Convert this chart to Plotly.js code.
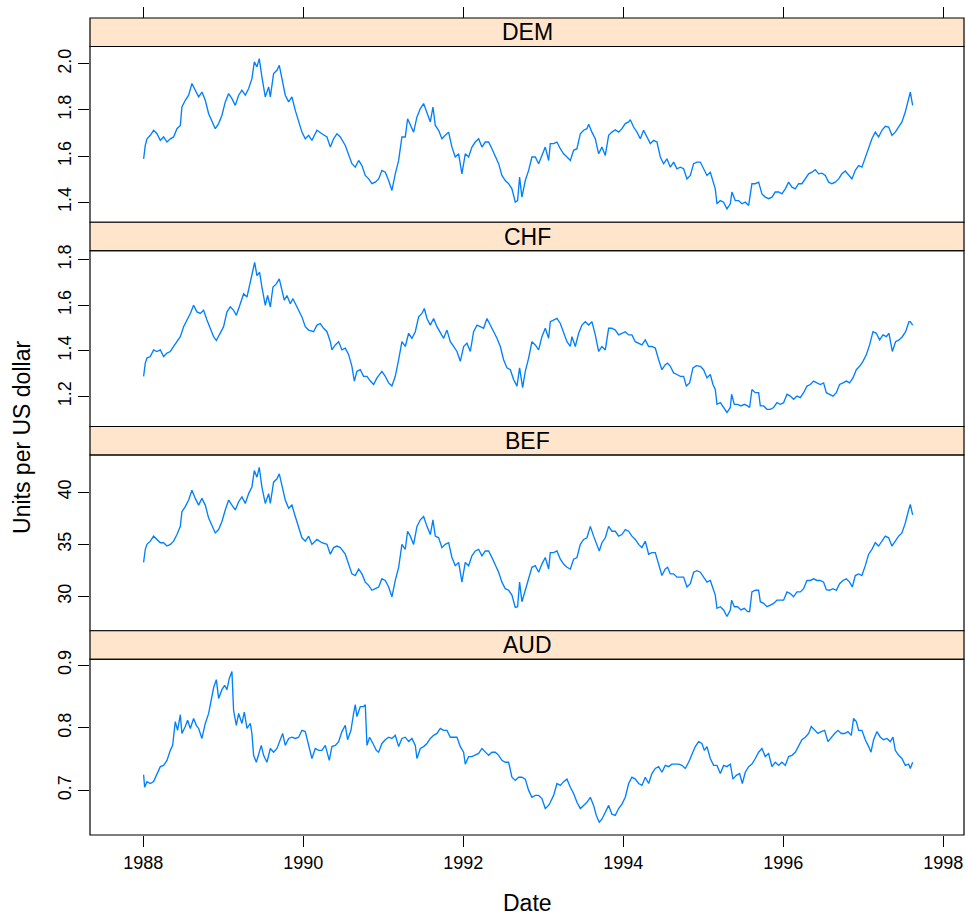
<!DOCTYPE html>
<html><head><meta charset="utf-8">
<script src="https://cdn.plot.ly/plotly-3.0.1.min.js"></script>
<style>html,body{margin:0;padding:0;background:#fff}#chart{width:966px;height:916px}</style>
</head><body><div id="chart"></div>
<script>
const currencies = ['DEM', 'CHF', 'BEF', 'AUD'];

const demDate = [
 1988.004,1988.025,1988.046,1988.088,1988.129,1988.171,1988.213,1988.254,1988.296,1988.338,1988.379,1988.421,1988.463,1988.483,1988.525,1988.567,1988.608,1988.65,1988.692,1988.733,1988.775,1988.817,1988.858,1988.9,1988.942,1988.983,
 1989.025,1989.067,1989.108,1989.15,1989.192,1989.233,1989.275,1989.317,1989.358,1989.388,1989.421,1989.45,1989.483,1989.525,1989.567,1989.588,1989.629,1989.671,1989.7,1989.733,1989.775,1989.817,1989.858,1989.9,1989.942,1989.983,
 1990.025,1990.067,1990.108,1990.171,1990.233,1990.296,1990.338,1990.379,1990.421,1990.463,1990.525,1990.567,1990.608,1990.65,1990.692,1990.733,1990.775,1990.817,1990.858,1990.9,1990.942,1990.983,
 1991.025,1991.067,1991.108,1991.15,1991.192,1991.233,1991.275,1991.304,1991.338,1991.379,1991.421,1991.463,1991.504,1991.546,1991.588,1991.621,1991.65,1991.692,1991.733,1991.775,1991.817,1991.858,1991.9,1991.942,1991.983,
 1992.025,1992.067,1992.108,1992.15,1992.192,1992.233,1992.275,1992.317,1992.358,1992.4,1992.442,1992.483,1992.525,1992.567,1992.608,1992.65,1992.679,1992.704,1992.733,1992.775,1992.817,1992.858,1992.9,1992.942,1992.983,
 1993.025,1993.067,1993.088,1993.129,1993.171,1993.213,1993.254,1993.296,1993.338,1993.379,1993.421,1993.463,1993.504,1993.546,1993.567,1993.608,1993.65,1993.692,1993.733,1993.775,1993.817,1993.858,1993.9,1993.942,1993.983,
 1994.025,1994.067,1994.088,1994.129,1994.171,1994.213,1994.254,1994.296,1994.338,1994.379,1994.421,1994.463,1994.504,1994.546,1994.588,1994.629,1994.671,1994.713,1994.754,1994.796,1994.838,1994.879,1994.921,1994.963,
 1995.004,1995.046,1995.088,1995.129,1995.15,1995.171,1995.213,1995.254,1995.296,1995.338,1995.358,1995.4,1995.442,1995.483,1995.525,1995.567,1995.608,1995.65,1995.692,1995.733,1995.775,1995.817,1995.858,1995.9,1995.942,1995.983,
 1996.025,1996.067,1996.108,1996.15,1996.192,1996.233,1996.275,1996.317,1996.358,1996.4,1996.442,1996.483,1996.525,1996.567,1996.608,1996.65,1996.692,1996.733,1996.775,1996.817,1996.858,1996.9,1996.942,1996.983,
 1997.025,1997.067,1997.108,1997.15,1997.192,1997.233,1997.275,1997.317,1997.358,1997.4,1997.442,1997.483,1997.525,1997.567,1997.588,1997.617
];
const demRate = [
 1.588,1.646,1.675,1.690,1.712,1.697,1.668,1.683,1.661,1.675,1.683,1.719,1.733,1.813,1.842,1.864,1.915,1.886,1.857,1.878,1.842,1.784,1.748,1.719,1.741,1.777,
 1.835,1.871,1.849,1.820,1.864,1.886,1.864,1.893,1.936,2.009,1.987,2.023,1.943,1.857,1.900,1.857,1.958,1.972,1.994,1.943,1.864,1.835,1.857,1.798,1.755,1.704,
 1.675,1.690,1.668,1.712,1.697,1.683,1.639,1.675,1.697,1.683,1.646,1.610,1.567,1.552,1.581,1.559,1.516,1.501,1.480,1.487,1.501,1.538,
 1.530,1.494,1.451,1.523,1.581,1.683,1.683,1.762,1.733,1.704,1.770,1.806,1.828,1.784,1.748,1.813,1.733,1.712,1.675,1.690,1.704,1.639,1.596,1.610,1.523,
 1.610,1.596,1.639,1.661,1.675,1.639,1.661,1.661,1.632,1.603,1.567,1.516,1.494,1.480,1.458,1.400,1.407,1.509,1.422,1.494,1.538,1.596,1.596,1.567,1.603,
 1.639,1.581,1.654,1.654,1.661,1.632,1.610,1.596,1.581,1.625,1.632,1.697,1.712,1.719,1.738,1.704,1.675,1.610,1.639,1.603,1.690,1.704,1.714,1.704,1.719,
 1.741,1.748,1.758,1.726,1.704,1.675,1.712,1.683,1.654,1.668,1.661,1.596,1.567,1.588,1.552,1.574,1.545,1.552,1.545,1.501,1.516,1.567,1.574,1.574,
 1.545,1.516,1.530,1.480,1.458,1.393,1.407,1.400,1.371,1.393,1.444,1.407,1.407,1.393,1.400,1.386,1.480,1.480,1.487,1.436,1.422,1.415,1.422,1.444,1.444,1.436,
 1.458,1.487,1.465,1.458,1.480,1.480,1.501,1.523,1.530,1.541,1.523,1.526,1.516,1.487,1.480,1.487,1.501,1.523,1.535,1.516,1.501,1.538,1.559,1.552,
 1.596,1.639,1.675,1.704,1.683,1.712,1.729,1.726,1.690,1.704,1.726,1.748,1.791,1.857,1.878,1.820
];

const chfDate = [
 1988.004,1988.025,1988.046,1988.088,1988.129,1988.171,1988.213,1988.254,1988.296,1988.338,1988.379,1988.421,1988.463,1988.504,1988.546,1988.588,1988.629,1988.671,1988.713,1988.754,1988.796,1988.838,1988.879,1988.913,1988.963,
 1989.004,1989.046,1989.088,1989.129,1989.163,1989.213,1989.254,1989.296,1989.338,1989.371,1989.392,1989.421,1989.454,1989.483,1989.525,1989.554,1989.588,1989.621,1989.663,1989.7,1989.733,1989.763,1989.796,1989.838,1989.871,1989.9,1989.942,1989.983,
 1990.025,1990.067,1990.129,1990.171,1990.213,1990.254,1990.296,1990.338,1990.358,1990.4,1990.442,1990.483,1990.525,1990.567,1990.608,1990.638,1990.671,1990.713,1990.754,1990.796,1990.838,1990.879,1990.921,1990.963,1990.983,
 1991.025,1991.067,1991.108,1991.15,1991.192,1991.233,1991.275,1991.317,1991.358,1991.4,1991.442,1991.483,1991.513,1991.546,1991.588,1991.629,1991.671,1991.713,1991.754,1991.796,1991.838,1991.879,1991.921,1991.963,
 1992.004,1992.046,1992.088,1992.129,1992.171,1992.213,1992.254,1992.296,1992.338,1992.379,1992.421,1992.463,1992.504,1992.546,1992.588,1992.629,1992.671,1992.704,1992.742,1992.775,1992.817,1992.858,1992.9,1992.942,1992.983,
 1993.025,1993.067,1993.088,1993.129,1993.171,1993.213,1993.254,1993.296,1993.338,1993.358,1993.4,1993.442,1993.483,1993.525,1993.567,1993.608,1993.65,1993.692,1993.733,1993.775,1993.817,1993.858,1993.9,1993.942,1993.983,
 1994.025,1994.067,1994.108,1994.15,1994.192,1994.233,1994.275,1994.317,1994.358,1994.4,1994.442,1994.483,1994.525,1994.554,1994.588,1994.629,1994.671,1994.713,1994.754,1994.788,1994.829,1994.871,1994.913,1994.963,
 1995.004,1995.046,1995.088,1995.121,1995.15,1995.171,1995.213,1995.254,1995.296,1995.338,1995.354,1995.388,1995.429,1995.471,1995.513,1995.554,1995.579,1995.608,1995.65,1995.692,1995.713,1995.754,1995.796,1995.838,1995.879,1995.921,1995.963,
 1996.004,1996.046,1996.088,1996.129,1996.171,1996.213,1996.254,1996.296,1996.338,1996.379,1996.421,1996.463,1996.504,1996.538,1996.579,1996.621,1996.663,1996.704,1996.746,1996.788,1996.829,1996.871,1996.913,1996.954,1996.996,
 1997.038,1997.079,1997.121,1997.163,1997.204,1997.246,1997.288,1997.321,1997.363,1997.404,1997.446,1997.488,1997.529,1997.571,1997.588,1997.617
];
const chfRate = [
 1.288,1.346,1.368,1.375,1.404,1.397,1.404,1.375,1.390,1.397,1.419,1.440,1.462,1.506,1.535,1.564,1.600,1.571,1.564,1.578,1.535,1.499,1.462,1.445,1.477,
 1.506,1.571,1.593,1.578,1.556,1.607,1.651,1.636,1.701,1.752,1.788,1.730,1.745,1.680,1.600,1.643,1.593,1.680,1.694,1.716,1.672,1.622,1.643,1.607,1.629,1.607,1.578,1.549,
 1.506,1.491,1.484,1.513,1.520,1.499,1.484,1.440,1.404,1.426,1.440,1.404,1.412,1.383,1.332,1.267,1.310,1.317,1.288,1.288,1.267,1.252,1.281,1.303,1.310,
 1.288,1.259,1.245,1.288,1.361,1.440,1.419,1.477,1.455,1.484,1.549,1.564,1.586,1.542,1.513,1.542,1.506,1.477,1.455,1.491,1.440,1.419,1.397,1.354,
 1.419,1.433,1.397,1.484,1.513,1.506,1.499,1.542,1.513,1.484,1.455,1.419,1.361,1.325,1.317,1.274,1.245,1.325,1.238,1.310,1.368,1.440,1.426,1.404,1.462,
 1.499,1.455,1.528,1.535,1.542,1.520,1.484,1.440,1.419,1.462,1.419,1.477,1.513,1.528,1.513,1.528,1.470,1.397,1.419,1.404,1.499,1.499,1.491,1.470,1.477,
 1.484,1.470,1.470,1.440,1.433,1.426,1.448,1.419,1.419,1.412,1.361,1.317,1.339,1.346,1.332,1.303,1.296,1.288,1.288,1.245,1.259,1.325,1.335,1.332,
 1.317,1.281,1.296,1.252,1.230,1.165,1.172,1.151,1.129,1.151,1.209,1.165,1.165,1.158,1.165,1.158,1.151,1.230,1.216,1.216,1.158,1.158,1.143,1.143,1.151,1.172,1.165,
 1.172,1.209,1.201,1.187,1.201,1.194,1.216,1.245,1.252,1.267,1.259,1.252,1.259,1.216,1.209,1.201,1.216,1.252,1.259,1.267,1.259,1.281,1.317,1.332,1.354,
 1.383,1.426,1.484,1.477,1.448,1.470,1.462,1.477,1.397,1.440,1.448,1.462,1.484,1.528,1.528,1.513
];

const befDate = [
 1988.004,1988.025,1988.046,1988.088,1988.129,1988.171,1988.213,1988.254,1988.296,1988.338,1988.379,1988.421,1988.463,1988.483,1988.525,1988.567,1988.608,1988.65,1988.692,1988.733,1988.775,1988.817,1988.858,1988.9,1988.942,1988.983,
 1989.025,1989.067,1989.108,1989.15,1989.192,1989.233,1989.275,1989.317,1989.358,1989.388,1989.421,1989.45,1989.483,1989.525,1989.567,1989.588,1989.629,1989.671,1989.7,1989.733,1989.775,1989.817,1989.858,1989.9,1989.942,1989.983,
 1990.025,1990.067,1990.108,1990.171,1990.233,1990.296,1990.338,1990.379,1990.421,1990.463,1990.525,1990.567,1990.608,1990.65,1990.692,1990.733,1990.775,1990.817,1990.858,1990.9,1990.942,1990.983,
 1991.025,1991.067,1991.108,1991.15,1991.192,1991.233,1991.275,1991.304,1991.338,1991.379,1991.421,1991.463,1991.504,1991.546,1991.588,1991.621,1991.65,1991.692,1991.733,1991.775,1991.817,1991.858,1991.9,1991.942,1991.983,
 1992.025,1992.067,1992.108,1992.15,1992.192,1992.233,1992.275,1992.317,1992.358,1992.4,1992.442,1992.483,1992.525,1992.567,1992.608,1992.65,1992.679,1992.704,1992.733,1992.775,1992.817,1992.858,1992.9,1992.942,1992.983,
 1993.025,1993.067,1993.088,1993.129,1993.171,1993.213,1993.254,1993.296,1993.338,1993.379,1993.421,1993.463,1993.504,1993.546,1993.588,1993.629,1993.671,1993.7,1993.733,1993.775,1993.817,1993.858,1993.9,1993.942,1993.983,
 1994.025,1994.067,1994.108,1994.15,1994.192,1994.233,1994.275,1994.317,1994.358,1994.4,1994.442,1994.483,1994.525,1994.554,1994.588,1994.629,1994.671,1994.713,1994.754,1994.796,1994.838,1994.879,1994.921,1994.963,
 1995.004,1995.046,1995.088,1995.129,1995.15,1995.171,1995.213,1995.254,1995.296,1995.338,1995.354,1995.388,1995.429,1995.471,1995.513,1995.554,1995.579,1995.608,1995.65,1995.692,1995.713,1995.754,1995.796,1995.838,1995.879,1995.921,1995.963,
 1996.004,1996.046,1996.088,1996.129,1996.171,1996.213,1996.254,1996.296,1996.338,1996.379,1996.421,1996.463,1996.504,1996.538,1996.579,1996.621,1996.663,1996.704,1996.746,1996.788,1996.829,1996.863,1996.9,1996.942,1996.983,
 1997.025,1997.067,1997.108,1997.15,1997.192,1997.233,1997.275,1997.317,1997.358,1997.4,1997.442,1997.483,1997.525,1997.567,1997.588,1997.617
];
const befRate = [
 33.27,34.53,35.00,35.31,35.79,35.47,35.16,35.16,34.84,35.00,35.31,35.94,36.73,38.14,38.62,39.25,40.19,39.41,38.77,39.41,38.77,37.52,36.73,36.10,36.42,37.20,
 38.30,39.25,38.77,38.30,39.09,39.56,38.93,39.87,40.50,42.08,41.45,42.39,40.50,38.93,39.87,38.93,40.97,41.29,41.76,40.66,39.25,38.46,38.77,37.67,36.73,35.63,
 35.31,35.79,35.00,35.47,35.16,35.00,34.06,34.69,34.84,34.69,34.06,33.11,32.17,32.01,32.64,32.17,31.38,31.07,30.60,30.75,30.91,31.70,
 31.54,30.91,29.97,31.54,32.80,35.00,34.53,36.26,35.79,35.00,36.73,37.36,37.67,36.73,35.94,37.36,35.79,35.63,34.69,35.00,35.16,33.74,32.96,33.27,31.38,
 33.27,32.96,33.90,34.37,34.53,33.90,34.37,34.37,33.74,33.11,32.33,31.38,30.75,30.60,30.13,28.96,29.02,31.38,29.50,30.60,31.86,32.80,32.96,32.33,33.11,
 33.74,32.64,34.21,34.21,34.37,33.58,33.11,32.80,32.64,33.58,33.74,35.00,35.47,35.63,36.73,35.79,35.00,34.37,35.16,35.63,36.73,36.26,36.26,35.79,35.94,
 36.42,36.26,35.79,35.47,35.00,34.69,35.31,34.06,34.21,34.21,33.11,32.01,32.64,32.80,32.17,32.17,31.86,31.86,31.86,30.91,31.23,32.33,32.48,32.33,
 31.86,31.38,31.54,30.60,30.13,28.87,29.02,28.71,28.08,28.71,29.65,29.02,29.02,28.71,28.87,28.55,28.55,30.44,30.60,30.60,29.50,29.34,29.02,29.18,29.34,29.65,29.65,
 29.65,30.44,30.28,29.97,30.44,30.44,30.75,31.54,31.54,31.70,31.54,31.54,31.38,30.66,30.60,30.75,30.60,31.23,31.54,31.70,31.38,30.91,32.01,32.17,32.01,
 32.96,34.06,34.53,35.16,34.84,35.31,35.79,35.63,34.84,35.31,35.79,36.10,37.04,38.30,38.84,37.83
];

const audDate = [
 1988.004,1988.017,1988.046,1988.088,1988.129,1988.171,1988.213,1988.254,1988.296,1988.338,1988.367,1988.4,1988.429,1988.463,1988.483,1988.525,1988.554,1988.588,1988.629,1988.663,1988.692,1988.733,1988.775,1988.817,1988.858,1988.879,1988.913,1988.942,1988.983,
 1989.017,1989.046,1989.075,1989.108,1989.129,1989.163,1989.192,1989.233,1989.263,1989.296,1989.338,1989.358,1989.379,1989.413,1989.442,1989.475,1989.504,1989.546,1989.588,1989.629,1989.671,1989.713,1989.742,1989.775,1989.817,1989.858,1989.9,1989.942,1989.983,
 1990.025,1990.067,1990.108,1990.15,1990.192,1990.233,1990.275,1990.325,1990.358,1990.4,1990.442,1990.483,1990.525,1990.554,1990.596,1990.629,1990.65,1990.671,1990.713,1990.754,1990.775,1990.796,1990.829,1990.871,1990.913,1990.942,1990.983,
 1991.025,1991.067,1991.108,1991.15,1991.192,1991.233,1991.275,1991.317,1991.358,1991.4,1991.421,1991.463,1991.504,1991.546,1991.588,1991.629,1991.671,1991.713,1991.754,1991.796,1991.838,1991.879,1991.921,1991.963,
 1992.004,1992.025,1992.067,1992.108,1992.15,1992.192,1992.233,1992.275,1992.317,1992.358,1992.4,1992.442,1992.483,1992.525,1992.567,1992.608,1992.65,1992.692,1992.733,1992.775,1992.817,1992.858,1992.9,1992.942,1992.983,
 1993.025,1993.067,1993.088,1993.129,1993.171,1993.213,1993.254,1993.296,1993.338,1993.379,1993.421,1993.463,1993.504,1993.546,1993.588,1993.629,1993.663,1993.7,1993.733,1993.775,1993.817,1993.858,1993.9,1993.942,1993.983,
 1994.025,1994.067,1994.108,1994.15,1994.192,1994.233,1994.275,1994.317,1994.358,1994.4,1994.442,1994.483,1994.525,1994.567,1994.608,1994.65,1994.692,1994.733,1994.775,1994.817,1994.858,1994.9,1994.942,1994.983,
 1995.013,1995.046,1995.088,1995.129,1995.171,1995.213,1995.254,1995.296,1995.338,1995.371,1995.413,1995.454,1995.488,1995.525,1995.567,1995.608,1995.65,1995.692,1995.733,1995.775,1995.817,1995.858,1995.9,1995.942,1995.983,
 1996.025,1996.067,1996.108,1996.15,1996.192,1996.233,1996.275,1996.317,1996.35,1996.392,1996.433,1996.475,1996.517,1996.558,1996.6,1996.642,1996.683,1996.725,1996.767,1996.808,1996.85,1996.879,1996.913,1996.942,1996.983,
 1997.025,1997.067,1997.096,1997.129,1997.171,1997.213,1997.254,1997.296,1997.338,1997.371,1997.4,1997.442,1997.483,1997.525,1997.567,1997.588,1997.617
];
const audRate = [
 0.725,0.705,0.714,0.711,0.714,0.727,0.738,0.740,0.748,0.764,0.772,0.810,0.796,0.821,0.791,0.802,0.812,0.799,0.815,0.804,0.799,0.783,0.807,0.823,0.852,0.864,0.877,0.847,0.861,
 0.868,0.861,0.879,0.890,0.828,0.804,0.823,0.807,0.825,0.799,0.807,0.791,0.756,0.745,0.756,0.772,0.756,0.745,0.767,0.761,0.767,0.781,0.791,0.772,0.783,0.785,0.783,0.785,0.796,
 0.794,0.770,0.751,0.767,0.764,0.764,0.772,0.748,0.770,0.772,0.778,0.794,0.804,0.781,0.796,0.823,0.837,0.818,0.834,0.834,0.837,0.772,0.785,0.775,0.764,0.761,0.775,
 0.781,0.785,0.783,0.788,0.770,0.783,0.785,0.778,0.783,0.772,0.751,0.767,0.770,0.775,0.783,0.788,0.791,0.799,0.796,0.796,0.785,0.785,0.785,0.770,
 0.761,0.742,0.754,0.754,0.756,0.759,0.767,0.761,0.756,0.761,0.761,0.756,0.748,0.745,0.745,0.721,0.716,0.721,0.721,0.718,0.700,0.689,0.692,0.692,0.687,
 0.671,0.676,0.681,0.692,0.711,0.708,0.714,0.718,0.705,0.695,0.681,0.671,0.676,0.681,0.689,0.676,0.660,0.649,0.654,0.665,0.676,0.662,0.660,0.671,0.678,
 0.689,0.711,0.721,0.718,0.711,0.708,0.721,0.711,0.727,0.735,0.738,0.729,0.740,0.738,0.742,0.742,0.742,0.740,0.735,0.745,0.756,0.770,0.778,0.775,
 0.764,0.770,0.751,0.740,0.740,0.727,0.740,0.738,0.742,0.718,0.724,0.727,0.711,0.729,0.738,0.742,0.751,0.761,0.767,0.754,0.759,0.738,0.745,0.740,0.745,
 0.740,0.754,0.756,0.761,0.772,0.781,0.785,0.791,0.802,0.796,0.791,0.794,0.796,0.778,0.785,0.791,0.796,0.791,0.791,0.794,0.788,0.815,0.810,0.796,0.796,
 0.781,0.770,0.761,0.781,0.794,0.785,0.781,0.783,0.778,0.785,0.764,0.756,0.751,0.740,0.742,0.735,0.745
];

const xTickVals = [1988, 1990, 1992, 1994, 1996, 1998];
const xTickText = ['1988', '1990', '1992', '1994', '1996', '1998'];
const demTickVals = [1.4, 1.6, 1.8, 2.0];
const demTickText = ['1.4', '1.6', '1.8', '2.0'];
const chfTickVals = [1.2, 1.4, 1.6, 1.8];
const chfTickText = ['1.2', '1.4', '1.6', '1.8'];
const befTickVals = [30, 35, 40];
const befTickText = ['30', '35', '40'];
const audTickVals = [0.7, 0.8, 0.9];
const audTickText = ['0.7', '0.8', '0.9'];
const xLabel = 'Date';
const yLabel = 'Units per US dollar';

const series = [
  {name: currencies[0], x: demDate, y: demRate, tv: demTickVals, tt: demTickText, range: [1.3129, 2.0754]},
  {name: currencies[1], x: chfDate, y: chfRate, tv: chfTickVals, tt: chfTickText, range: [1.0675, 1.8395]},
  {name: currencies[2], x: befDate, y: befRate, tv: befTickVals, tt: befTickText, range: [26.715, 43.573]},
  {name: currencies[3], x: audDate, y: audRate, tv: audTickVals, tt: audTickText, range: [0.6287, 0.9096]}
];

const FONT = 'Liberation Sans, Arial, Helvetica, sans-serif';
const TITLE_SIZE = 23;
const xRange = [1987.334, 1998.259];
const blockH = 0.25;
const stripH = 0.0349;

const traces = [];
const layout = {
  width: 966, height: 916,
  margin: {l: 90, r: 2, t: 18, b: 81, pad: 0},
  paper_bgcolor: '#fff', plot_bgcolor: '#fff',
  showlegend: false,
  font: {family: FONT, color: '#000', size: 18},
  shapes: [], annotations: []
};

series.forEach((s, i) => {
  const n = i + 1;
  const sfx = n === 1 ? '' : String(n);
  const top = 1 - i * blockH;
  const dom = [top - blockH, top - stripH];
  traces.push({
    type: 'scatter', mode: 'lines', x: s.x, y: s.y,
    xaxis: 'x' + sfx, yaxis: 'y' + sfx,
    line: {color: '#0080ff', width: 1.35},
    hoverinfo: 'skip'
  });
  const xa = {
    range: xRange, showgrid: false, zeroline: false, showline: false,
    tickvals: xTickVals, ticktext: xTickText, fixedrange: true
  };
  if (n === 1) {
    Object.assign(xa, {anchor: 'free', position: 1, side: 'top', ticks: 'outside', ticklen: 11,
      tickwidth: 1, tickcolor: '#000', showticklabels: false});
  } else if (n === 4) {
    Object.assign(xa, {anchor: 'y4', ticks: 'outside', ticklen: 11, tickwidth: 1, tickcolor: '#000',
      showticklabels: true, tickfont: {size: 18, family: FONT, color: '#000'}});
  } else {
    Object.assign(xa, {anchor: 'y' + sfx, visible: false});
  }
  layout['xaxis' + sfx] = xa;
  layout['yaxis' + sfx] = {
    domain: dom, range: s.range, anchor: 'x' + sfx,
    showgrid: false, zeroline: false, showline: false,
    tickvals: s.tv, ticktext: s.tt, tickangle: -90,
    ticks: 'outside', ticklen: 11, tickwidth: 1, tickcolor: '#000',
    tickfont: {size: 18, family: FONT, color: '#000'}, fixedrange: true
  };
  layout.shapes.push({type: 'rect', xref: 'paper', yref: 'paper', x0: 0, x1: 1,
    y0: top - stripH, y1: top, fillcolor: '#ffe5cc', line: {color: '#000', width: 1.2}, layer: 'above'});
  layout.shapes.push({type: 'rect', xref: 'paper', yref: 'paper', x0: 0, x1: 1,
    y0: dom[0], y1: dom[1], fillcolor: 'rgba(0,0,0,0)', line: {color: '#000', width: 1.2}, layer: 'above'});
  layout.annotations.push({xref: 'paper', yref: 'paper', x: 0.5, y: top - stripH / 2,
    text: s.name, showarrow: false, xanchor: 'center', yanchor: 'middle',
    font: {size: TITLE_SIZE, family: FONT, color: '#000'}});
});

layout.annotations.push({xref: 'paper', yref: 'paper', x: 0.5, y: -0.0832, text: xLabel,
  showarrow: false, xanchor: 'center', yanchor: 'middle', font: {size: TITLE_SIZE, family: FONT, color: '#000'}});
layout.annotations.push({xref: 'paper', yref: 'paper', x: -0.0778, y: 0.486, text: yLabel, textangle: -90,
  showarrow: false, xanchor: 'center', yanchor: 'middle', font: {size: TITLE_SIZE, family: FONT, color: '#000'}});

Plotly.newPlot('chart', traces, layout, {staticPlot: true, displayModeBar: false});
</script>
</body></html>
